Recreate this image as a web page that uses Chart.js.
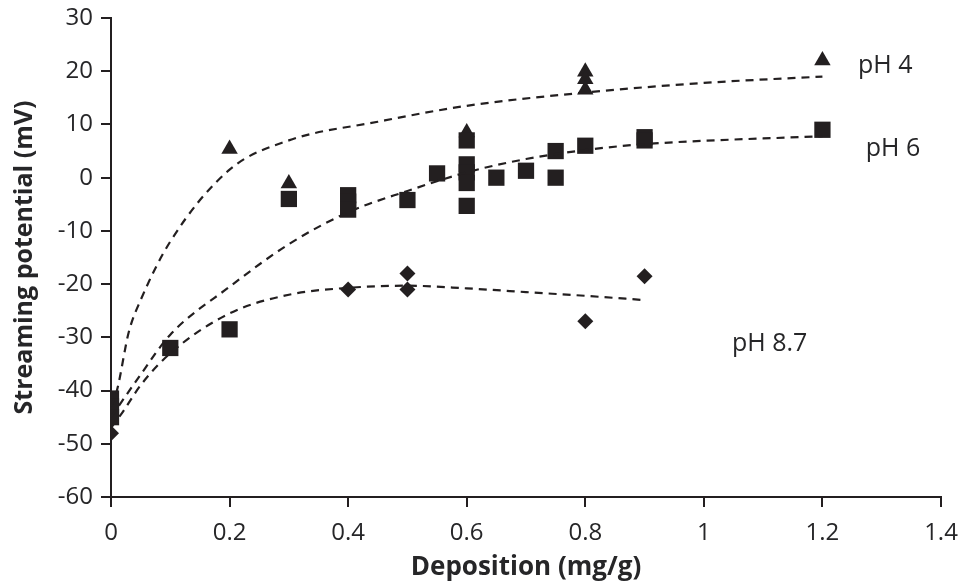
<!DOCTYPE html>
<html>
<head>
<meta charset="utf-8">
<script src="https://cdn.jsdelivr.net/npm/chart.js@4"></script>
<style>
  html, body { margin: 0; padding: 0; background: #fff; }
  #wrap { width: 965px; height: 587px; }
</style>
</head>
<body>
<div id="wrap"><canvas id="chart" width="965" height="587"></canvas></div>
<script>
// measured points
const ph4X = [0.2, 0.3, 0.6, 0.8, 0.8, 0.8, 1.2];
const ph4Y = [5.4, -1.1, 8.5, 19.9, 18.5, 16.5, 22];

const ph6X = [0, 0, 0, 0.1, 0.2, 0.3, 0.4, 0.4, 0.4, 0.5, 0.55, 0.6, 0.6, 0.6, 0.6, 0.6, 0.65, 0.7, 0.75, 0.75, 0.8, 0.9, 0.9, 1.2];
const ph6Y = [-41.5, -43, -45, -32, -28.5, -4, -3.3, -4.5, -6, -4.2, 0.8, 7, 2.5, 1, -1, -5.3, 0, 1.3, 5, 0, 6, 7.6, 7, 9];

const ph87X = [0, 0.4, 0.5, 0.5, 0.8, 0.9];
const ph87Y = [-48, -21, -18, -21, -27, -18.5];

// dashed fit curves
const fit4X = [0, 0.01, 0.03, 0.05, 0.1, 0.2, 0.3, 0.45, 0.6, 0.8, 1.0, 1.2];
const fit4Y = [-43, -40, -29, -23, -12, 1.5, 7, 10.5, 13.5, 16, 17.8, 19];

const fit6X = [0, 0.05, 0.1, 0.2, 0.3, 0.4, 0.5, 0.6, 0.7, 0.8, 0.9, 1.2];
const fit6Y = [-45, -37, -29.5, -20.5, -12.5, -6.5, -2.5, 1, 3.5, 5.2, 6.3, 7.8];

const fit87X = [0, 0.02, 0.05, 0.1, 0.2, 0.3, 0.4, 0.5, 0.6, 0.7, 0.8, 0.9];
const fit87Y = [-47, -44, -39, -33, -25.5, -22, -20.7, -20.3, -20.8, -21.5, -22.2, -23];

const seriesLabels = ['pH 4', 'pH 6', 'pH 8.7'];
const labelX = [1.306, 1.319, 1.111];
const labelY = [21.0, 5.4, -31.2];

const ink = '#231f20';
const txt = '#262628';
const fam = '"Open Sans", sans-serif';

const pts = (xs, ys) => xs.map((x, i) => ({ x: x, y: ys[i] }));

const fitLine = (xs, ys) => ({
  data: pts(xs, ys),
  showLine: true,
  borderColor: ink,
  borderWidth: 2.2,
  borderDash: [8, 6],
  pointRadius: 0,
  cubicInterpolationMode: 'monotone',
  fill: false
});

const seriesText = {
  id: 'seriesText',
  afterDatasetsDraw(chart) {
    const { ctx, scales } = chart;
    ctx.save();
    ctx.font = '25px ' + fam;
    ctx.fillStyle = txt;
    ctx.textAlign = 'center';
    ctx.textBaseline = 'middle';
    seriesLabels.forEach((t, i) => {
      ctx.fillText(t, scales.x.getPixelForValue(labelX[i]), scales.y.getPixelForValue(labelY[i]));
    });
    ctx.restore();
  }
};

new Chart(document.getElementById('chart'), {
  type: 'scatter',
  data: {
    datasets: [
      fitLine(fit4X, fit4Y),
      fitLine(fit6X, fit6Y),
      fitLine(fit87X, fit87Y),
      { data: pts(ph87X, ph87Y), pointStyle: 'rectRot', pointRadius: 8, backgroundColor: ink, borderColor: ink, borderWidth: 0 },
      { data: pts(ph6X, ph6Y), pointStyle: 'rect', pointRadius: 11.5, backgroundColor: ink, borderColor: ink, borderWidth: 0 },
      { data: pts(ph4X, ph4Y), pointStyle: 'triangle', pointRadius: 9.5, backgroundColor: ink, borderColor: ink, borderWidth: 0 }
    ]
  },
  options: {
    responsive: false,
    animation: false,
    layout: { padding: { top: 18, right: 24, left: 0, bottom: 0 } },
    plugins: { legend: { display: false }, tooltip: { enabled: false } },
    scales: {
      x: {
        type: 'linear',
        min: 0, max: 1.4,
        afterFit: s => { s.height = 90; s.paddingLeft = 0; s.paddingRight = 0; },
        ticks: {
          stepSize: 0.2,
          color: txt,
          font: { family: fam, size: 24 },
          padding: 12,
          maxRotation: 0,
          callback: v => String(parseFloat(v.toFixed(1)))
        },
        grid: { drawOnChartArea: false, color: ink, tickLength: 10, lineWidth: 2 },
        border: { color: ink, width: 2 },
        title: {
          display: true,
          text: 'Deposition (mg/g)',
          color: txt,
          font: { family: fam, size: 26, weight: 'bold' },
          padding: { top: 0, bottom: 4 }
        }
      },
      y: {
        min: -60, max: 30,
        afterFit: s => { s.width = 111; s.paddingTop = 0; s.paddingBottom = 0; },
        ticks: {
          stepSize: 10,
          color: txt,
          font: { family: fam, size: 24 },
          padding: 8
        },
        grid: { drawOnChartArea: false, color: ink, tickLength: 10, lineWidth: 2 },
        border: { color: ink, width: 2 },
        title: {
          display: true,
          text: 'Streaming potential (mV)',
          color: txt,
          font: { family: fam, size: 25, weight: 'bold' },
          padding: { top: 10, bottom: 4 }
        }
      }
    }
  },
  plugins: [seriesText]
});
</script>
</body>
</html>
